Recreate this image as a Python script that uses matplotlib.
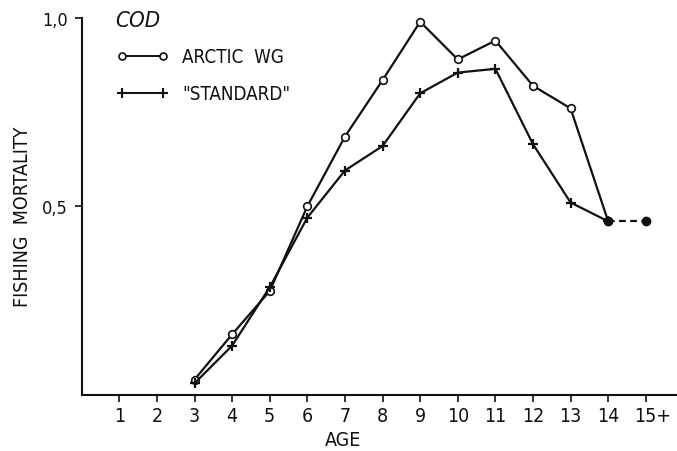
import matplotlib
matplotlib.use("Agg")
import matplotlib.pyplot as plt
import matplotlib.transforms as mtransforms

# Cod, fishing mortality at age: Arctic working group vs "standard" run
AGES = [3, 4, 5, 6, 7, 8, 9, 10, 11, 12, 13, 14]
ARCTIC_WG = [0.04, 0.16, 0.275, 0.50, 0.685, 0.835, 0.99, 0.89, 0.94, 0.82, 0.76, 0.46]
STANDARD = [0.03, 0.13, 0.285, 0.47, 0.595, 0.66, 0.80, 0.855, 0.865, 0.665, 0.51, 0.46]
PLUS_AGES = [14, 15]
PLUS_F = [0.46, 0.46]

X_TICKS = list(range(1, 16))
X_LABELS = [str(a) for a in range(1, 15)] + ["15+"]
Y_TICKS = [0.5, 1.0]
Y_LABELS = ["0,5", "1,0"]

INK = "#111111"

# a condensed face is closest to the stencil lettering of the original
plt.rcParams["font.family"] = ["DejaVu Sans"]
plt.rcParams["font.stretch"] = "condensed"

fig = plt.figure(figsize=(6.77, 4.52), dpi=100)
ax = fig.add_axes([0.1207, 0.1248, 0.8793, 0.8332])

ax.plot(AGES, ARCTIC_WG, color=INK, lw=1.6, marker="o", markersize=5.5,
        markerfacecolor="white", markeredgecolor=INK, markeredgewidth=1.2,
        clip_on=False, zorder=3)
ax.plot(AGES, STANDARD, color=INK, lw=1.6, marker="+", markersize=6.5,
        markeredgewidth=1.6, clip_on=False, zorder=3)
ax.plot(PLUS_AGES, PLUS_F, color=INK, lw=1.6, ls=(0, (3, 2)), marker="o",
        markersize=6, markerfacecolor=INK, clip_on=False, zorder=4)

ax.set_xlim(0, 15.83)
ax.set_ylim(0, 1.0)
for side in ("top", "right"):
    ax.spines[side].set_visible(False)
for side in ("left", "bottom"):
    ax.spines[side].set_linewidth(1.5)
    ax.spines[side].set_color(INK)

ax.set_xticks(X_TICKS)
ax.set_xticklabels(X_LABELS)
ax.set_yticks(Y_TICKS)
ax.set_yticklabels(Y_LABELS)
ax.tick_params(axis="both", direction="out", length=5, width=1.2,
               colors=INK, labelsize=14, pad=3)
ax.tick_params(axis="y", labelsize=13, pad=5)

# "15+" sits with its "15" over the tick
last = ax.get_xticklabels()[-1]
last.set_transform(last.get_transform()
                   + mtransforms.ScaledTranslation(5 / 72, 0, fig.dpi_scale_trans))

ax.text(6.95, -0.118, "AGE", transform=ax.get_xaxis_transform(),
        ha="center", va="center", fontsize=14, color=INK)
fig.text(0.033, 0.52, "FISHING  MORTALITY", rotation=90, ha="center",
         va="center", fontsize=14, color=INK)

# title and hand-drawn style legend
ax.text(0.9, 0.995, "COD", fontsize=16, style="italic", color=INK,
        ha="left", va="center")
ax.plot([1.07, 2.17], [0.899, 0.899], color=INK, lw=1.4, marker="o",
        markersize=5, markerfacecolor="white", markeredgewidth=1.2,
        clip_on=False)
ax.text(2.67, 0.899, "ARCTIC  WG", fontsize=13.5, color=INK, va="center")
ax.plot([1.07, 2.17], [0.80, 0.80], color=INK, lw=1.4, marker="+",
        markersize=6.5, markeredgewidth=1.5, clip_on=False)
ax.text(2.67, 0.80, "\"STANDARD\"", fontsize=13.5, color=INK, va="center")

fig.savefig("out.png", dpi=100)
